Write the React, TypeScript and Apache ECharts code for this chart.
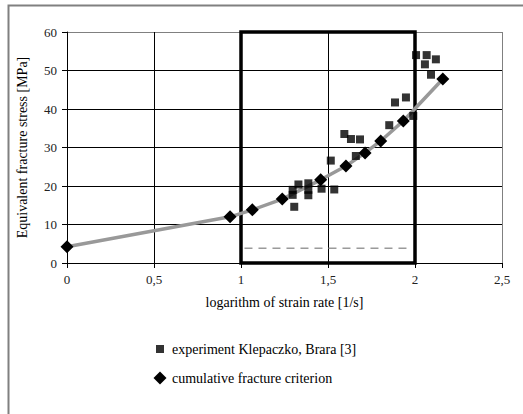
import React, { useEffect, useRef } from "react";
import * as echarts from "echarts";

// cumulative fracture criterion (diamonds + curve)
const criterionX = [0, 0.937, 1.065, 1.237, 1.458, 1.603, 1.713, 1.803, 1.933, 2.16];
const criterionY = [4.2, 12.0, 13.8, 16.6, 21.6, 25.2, 28.6, 31.7, 36.9, 47.8];

// experiment Klepaczko, Brara [3] (squares)
const experimentX = [
  1.297, 1.297, 1.306, 1.33, 1.387, 1.387, 1.387, 1.463, 1.516, 1.536,
  1.594, 1.632, 1.684, 1.66, 1.852, 1.885, 1.948, 1.99, 2.006, 2.067,
  2.057, 2.12, 2.092,
];
const experimentY = [
  19.0, 17.7, 14.6, 20.4, 20.7, 19.0, 17.6, 19.3, 26.6, 19.1,
  33.5, 32.2, 32.1, 27.8, 35.8, 41.7, 43.0, 38.2, 54.0, 54.0,
  51.6, 52.9, 48.9,
];

// dashed reference line
const dashedX = [1.02, 1.97];
const dashedY = [3.8, 3.8];

// highlighted range box
const boxX = [1, 2];
const boxY = [0, 60];

const xTicks = [0, 0.5, 1, 1.5, 2, 2.5];
const yTicks = [0, 10, 20, 30, 40, 50, 60];

const seriesNames = ["experiment Klepaczko, Brara [3]", "cumulative fracture criterion"];

const FONT = "Liberation Serif";

export default function App() {
  const ref = useRef<HTMLDivElement>(null);
  useEffect(() => {
    if (!ref.current) return;
    const chart = echarts.init(ref.current, null, { renderer: "svg" });
    chart.setOption({
      animation: false,
      backgroundColor: "#fff",
      textStyle: { fontFamily: FONT },
      graphic: [
        {
          type: "rect",
          shape: { x: 8.5, y: 5.5, width: 600, height: 500 },
          style: { fill: "none", stroke: "#808080", lineWidth: 2 },
          z: 100,
        },
      ],
      grid: { left: 67, right: 21, top: 32, bottom: 151 },
      legend: {
        orient: "vertical",
        left: 148,
        top: 337,
        itemGap: 15,
        itemWidth: 14,
        itemHeight: 14,
        textStyle: { fontFamily: FONT, fontSize: 14, color: "#000" },
        data: [
          {
            name: seriesNames[0],
            icon: "path://M0,0M14,14M3,3L11,3L11,11L3,11Z",
            itemStyle: { color: "#000" },
          },
          {
            name: seriesNames[1],
            icon: "path://M0,0M14,14M7,0.5L13.5,7L7,13.5L0.5,7Z",
            itemStyle: { color: "#000" },
          },
        ],
      },
      xAxis: {
        type: "value",
        min: xTicks[0],
        max: xTicks[xTicks.length - 1],
        interval: 0.5,
        name: "logarithm of strain rate [1/s]",
        nameLocation: "middle",
        nameGap: 32,
        nameTextStyle: { fontFamily: FONT, fontSize: 14, color: "#000" },
        axisLine: { onZero: false, lineStyle: { color: "#000", width: 1 } },
        axisTick: { show: true, length: 5, lineStyle: { color: "#000" } },
        axisLabel: {
          fontFamily: FONT,
          fontSize: 13,
          color: "#222",
          margin: 10,
          formatter: (v: number) => String(v).replace(".", ","),
        },
        splitLine: {
          show: true,
          lineStyle: { color: ["#000", "#000", "#000", "#000", "#000", "#808080"], width: 1 },
        },
      },
      yAxis: {
        type: "value",
        min: yTicks[0],
        max: yTicks[yTicks.length - 1],
        interval: 10,
        name: "Equivalent fracture stress [MPa]",
        nameLocation: "middle",
        nameGap: 38,
        nameTextStyle: { fontFamily: FONT, fontSize: 14, color: "#000" },
        axisLine: { show: true, lineStyle: { color: "#000", width: 1 } },
        axisTick: { show: true, length: 5, lineStyle: { color: "#000" } },
        axisLabel: { fontFamily: FONT, fontSize: 13, color: "#222", margin: 10 },
        splitLine: {
          show: true,
          lineStyle: { color: ["#000", "#000", "#000", "#000", "#000", "#000", "#808080"], width: 1 },
        },
      },
      series: [
        {
          name: "box",
          type: "line",
          data: [],
          silent: true,
          markArea: {
            silent: true,
            itemStyle: { color: "rgba(0,0,0,0)", borderColor: "#000", borderWidth: 3.5 },
            data: [[{ xAxis: boxX[0], yAxis: boxY[0] }, { xAxis: boxX[1], yAxis: boxY[1] }]],
          },
          z: 3,
        },
        {
          name: "dashed",
          type: "line",
          data: dashedX.map((x, i) => [x, dashedY[i]]),
          symbol: "none",
          lineStyle: { color: "#9a9a9a", width: 1.5, type: [8, 6] },
          z: 4,
        },
        {
          name: seriesNames[1],
          type: "line",
          data: criterionX.map((x, i) => [x, criterionY[i]]),
          symbol: "diamond",
          symbolSize: 13,
          itemStyle: { color: "#000" },
          lineStyle: { color: "#999999", width: 3.5 },
          z: 5,
        },
        {
          name: seriesNames[0],
          type: "scatter",
          data: experimentX.map((x, i) => [x, experimentY[i]]),
          symbol: "rect",
          symbolSize: 8,
          itemStyle: { color: "#000" },
          z: 6,
        },
      ],
    });
    return () => chart.dispose();
  }, []);
  return (
    <div
      ref={ref}
      style={{ position: "fixed", left: 0, top: 0, width: 523, height: 414, background: "#fff" }}
    />
  );
}
